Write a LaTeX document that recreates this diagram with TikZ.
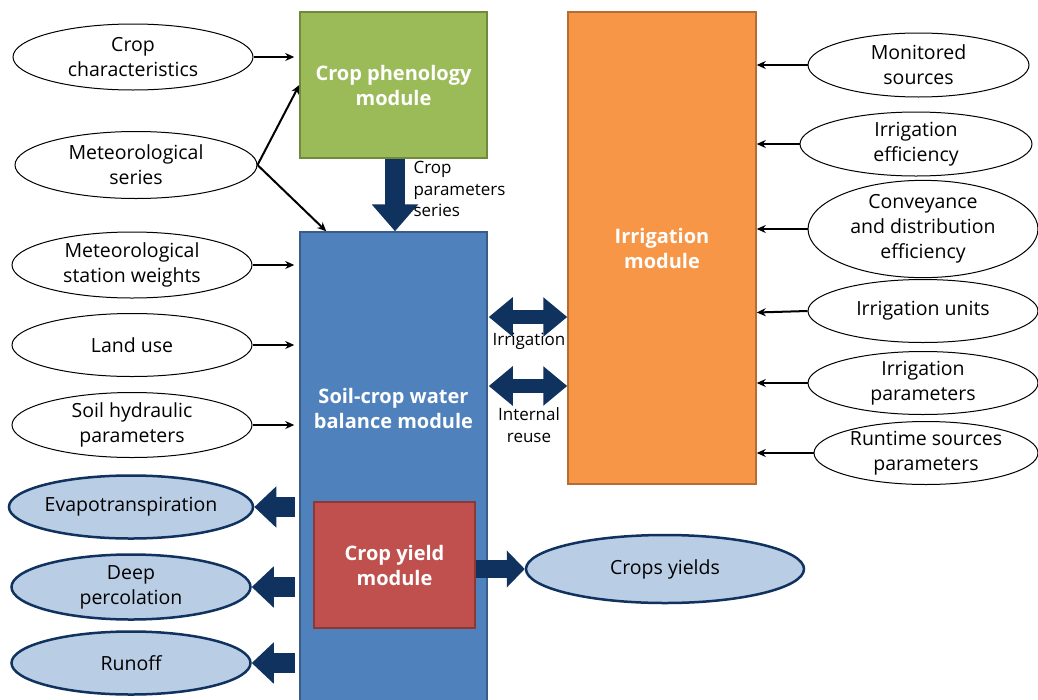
\documentclass[tikz,border=0pt]{standalone}
\usepackage{fontspec}
\setmainfont{Open Sans}
\usetikzlibrary{shapes.geometric,arrows.meta,calc}
\definecolor{navy}{HTML}{10325F}
\definecolor{lightblue}{HTML}{B9CDE5}
\definecolor{phgreen}{HTML}{9BBB59}
\definecolor{phgreenD}{HTML}{71893F}
\definecolor{wbblue}{HTML}{4F81BD}
\definecolor{wbblueD}{HTML}{385D8A}
\definecolor{yred}{HTML}{C0504D}
\definecolor{yredD}{HTML}{8C3836}
\definecolor{irorange}{HTML}{F79646}
\definecolor{irorangeD}{HTML}{B66D31}
\begin{document}
\begin{tikzpicture}[x=1pt,y=-1pt,
  font=\fontsize{19.5}{25}\selectfont,
  inp/.style={ellipse, draw=black, line width=1pt, fill=white, inner sep=0pt, align=center},
  outp/.style={ellipse, draw=navy, line width=2.5pt, fill=lightblue, inner sep=0pt, align=center},
  module/.style={rectangle, line width=1.5pt, inner sep=0pt, text=white, align=center},
  modtext/.style={text=white, align=center, font=\fontsize{20}{25}\selectfont\bfseries},
  small/.style={align=center, font=\fontsize{17}{21.5}\selectfont},
  feed/.style={-{Stealth[length=9pt,width=8pt]}, line width=2pt},
  bigarrow/.style={navy, line width=20pt, -{Triangle[length=22pt,width=40pt]}},
  twoway/.style={navy, line width=14pt, {Triangle[length=24pt,width=38pt]}-{Triangle[length=24pt,width=38pt]}}
]
\clip (0,0) rectangle (1038,699);
\fill[white] (0,0) rectangle (1038,699);

% modules
\node[module, fill=phgreen, draw=phgreenD, minimum width=187pt, minimum height=146pt, modtext] (ph) at (393.5,85) {Crop phenology\\module};
\node[module, fill=wbblue, draw=wbblueD, minimum width=187pt, minimum height=473pt] (wb) at (393.5,468.5) {};
\node[modtext] (wbt) at (393.5,408) {Soil-crop water\\balance module};
\node[module, fill=yred, draw=yredD, minimum width=161pt, minimum height=126pt, modtext] (cy) at (394.5,565) {Crop yield\\module};
\node[module, fill=irorange, draw=irorangeD, minimum width=188pt, minimum height=472pt, modtext] (ir) at (662,248) {Irrigation\\module};

% left inputs
\node[inp, minimum width=240pt, minimum height=66pt] (cc) at (133,57) {Crop\\characteristics};
\node[inp, minimum width=242pt, minimum height=67pt] (ms) at (136,165) {Meteorological\\series};
\node[inp, minimum width=240pt, minimum height=66pt] (sw) at (132,265) {Meteorological\\station weights};
\node[inp, minimum width=240pt, minimum height=63pt] (lu) at (132,345) {Land use};
\node[inp, minimum width=240pt, minimum height=65pt] (sh) at (132,425) {Soil hydraulic\\parameters};

% outputs
\node[outp, minimum width=239pt, minimum height=63pt] (et) at (131,507) {Evapotranspiration};
\node[outp, minimum width=239pt, minimum height=65pt] (dp) at (131,587) {Deep\\percolation};
\node[outp, minimum width=239pt, minimum height=63pt] (ro) at (131,663) {Runoff};
\node[outp, minimum width=278pt, minimum height=68pt] (yl) at (665,569) {Crops yields};

% right inputs
\node[inp, minimum width=221pt, minimum height=64pt] (mo) at (918.5,65) {Monitored\\sources};
\node[inp, minimum width=232pt, minimum height=64pt] (ie) at (916,144) {Irrigation\\efficiency};
\node[inp, minimum width=230pt, minimum height=82pt] (cd) at (923,229) {Conveyance\\and distribution\\efficiency};
\node[inp, minimum width=230pt, minimum height=63pt] (iu) at (923,311) {Irrigation units};
\node[inp, minimum width=230pt, minimum height=63pt] (ip) at (923,383) {Irrigation\\parameters};
\node[inp, minimum width=224pt, minimum height=63pt] (rs) at (926,453) {Runtime sources\\parameters};

% thin input connectors
\draw[feed, shorten >=5pt] (cc.east) -- (cc.east -| ph.west);
\draw[feed] (ms.east) -- (ph.west);
\draw[feed] (ms.east) -- ([xshift=27pt]wb.north west);
\draw[feed, shorten >=5pt] (sw.east) -- (sw.east -| wb.west);
\draw[feed, shorten >=5pt] (lu.east) -- (lu.east -| wb.west);
\draw[feed, shorten >=5pt] (sh.east) -- (sh.east -| wb.west);

\draw[feed] (mo.west) -- (mo.west -| ir.east);
\draw[feed] (ie.west) -- (ie.west -| ir.east);
\draw[feed] (cd.west) -- (cd.west -| ir.east);
\draw[feed] (iu.west) -- ([yshift=-1.5pt]iu.west -| ir.east);
\draw[feed] (ip.west) -- (ip.west -| ir.east);
\draw[feed] (rs.west) -- (rs.west -| ir.east);

% block arrows
\draw[navy, line width=20pt, -{Triangle[length=27pt,width=45pt]}] ([xshift=1.5pt]ph.south) -- ([xshift=1.5pt]wb.north);
\node[small, align=left, anchor=north west] (cps) at (410,158) {Crop\\parameters\\series};

\coordinate (yirr) at (0,317);
\coordinate (yreu) at (0,386);
\draw[twoway] ([xshift=1pt]wb.east |- yirr) -- (ir.west |- yirr);
\draw[twoway] ([xshift=1pt]wb.east |- yreu) -- (ir.west |- yreu);
\node[small] (irl) at (529,341) {Irrigation};
\node[small] (rul) at (529,425) {Internal\\reuse};

\draw[bigarrow, shorten <=4pt] (wb.west |- et.east) -- (et.east);
\draw[bigarrow, shorten <=4pt] (wb.west |- dp.east) -- (dp.east);
\draw[bigarrow, shorten <=4pt] (wb.west |- ro.east) -- (ro.east);
\draw[navy, line width=18pt, -{Triangle[length=18pt,width=36pt]}] (cy.east |- yl.west) -- (yl.west);
\end{tikzpicture}
\end{document}
